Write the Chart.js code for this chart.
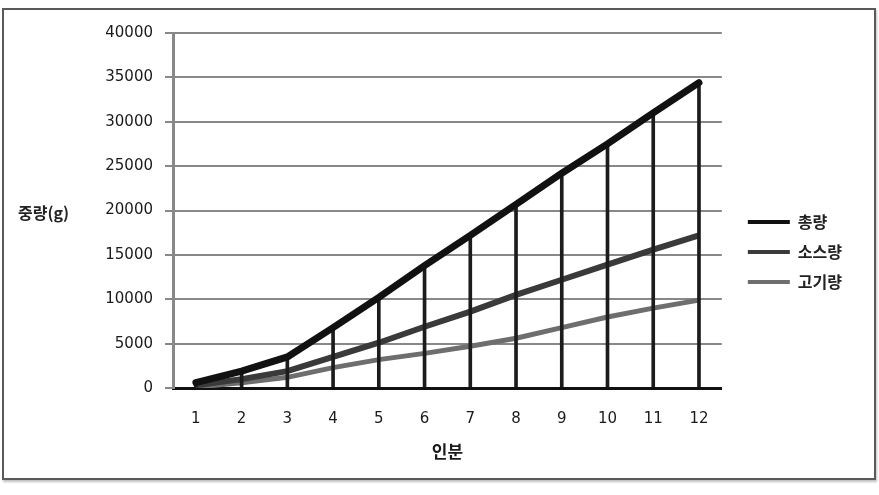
<!DOCTYPE html>
<html>
<head>
<meta charset="utf-8">
<script src="https://cdn.jsdelivr.net/npm/chart.js@4/dist/chart.umd.min.js"></script>
<style>
html, body { margin: 0; padding: 0; background: #fff; }
#wrap { position: relative; width: 879px; height: 495px; }
#frame { position: absolute; left: 2px; top: 8px; width: 870px; height: 468px; border: 2px solid #5a5a5a; box-shadow: 1px 2px 2px rgba(0,0,0,0.25); }
#ytitle { position: absolute; left: 18px; top: 200px; font: bold 16px "Noto Sans CJK KR"; color: #222; }
canvas { position: absolute; left: 0; top: 0; }
</style>
</head>
<body>
<div id="wrap">
  <div id="frame"></div>
  <canvas id="chart" width="879" height="495"></canvas>
  <div id="ytitle">중량(g)</div>
</div>
<script>
// 인분별 중량 (g)
const servings = ["1", "2", "3", "4", "5", "6", "7", "8", "9", "10", "11", "12"];
const totalWeight = [600, 1900, 3500, 6800, 10200, 13800, 17200, 20700, 24200, 27500, 31000, 34400];
const sauceWeight = [300, 1000, 1900, 3500, 5100, 6900, 8600, 10500, 12200, 13900, 15600, 17200];
const meatWeight = [100, 600, 1200, 2300, 3200, 3900, 4700, 5600, 6800, 8000, 9000, 9900];
const yMin = 0, yMax = 40000, yStep = 5000;

Chart.defaults.font.family = "DejaVu Sans";
Chart.defaults.color = "#1a1a1a";

const korFont = { family: "Noto Sans CJK KR", weight: "bold" };

new Chart(document.getElementById("chart"), {
    type: "line",
    data: {
        labels: servings,
        datasets: [
            { label: "총량", data: totalWeight, borderColor: "#111", backgroundColor: "#111", borderWidth: 7, pointRadius: 0, borderCapStyle: "round", order: 0 },
            { type: "bar", label: "drop", data: totalWeight, backgroundColor: "#1c1c1c", barThickness: 3, order: 1 },
            { label: "소스량", data: sauceWeight, borderColor: "#3a3a3a", backgroundColor: "#3a3a3a", borderWidth: 6, pointRadius: 0, order: 2 },
            { label: "고기량", data: meatWeight, borderColor: "#6e6e6e", backgroundColor: "#6e6e6e", borderWidth: 5, pointRadius: 0, order: 3 }
        ]
    },
    options: {
        responsive: false,
        animation: false,
        layout: { padding: { top: 33, right: 27, bottom: 24, left: 0 } },
        plugins: {
            tooltip: { enabled: false },
            legend: {
                position: "right",
                labels: {
                    boxWidth: 42,
                    boxHeight: 4,
                    padding: 14,
                    color: "#222",
                    font: { ...korFont, size: 16 },
                    generateLabels: chart => Chart.defaults.plugins.legend.labels.generateLabels(chart)
                        .filter(i => i.text !== "drop")
                        .map(i => Object.assign(i, { fillStyle: i.strokeStyle, lineWidth: 0 }))
                }
            }
        },
        scales: {
            x: {
                offset: true,
                grid: { display: false, drawTicks: false },
                border: { color: "#111", width: 3 },
                ticks: { padding: 22, font: { size: 15 } },
                title: { display: true, text: "인분", font: { ...korFont, size: 17 }, padding: { top: 0, bottom: 9 } },
                afterFit: s => { s.height = 83; }
            },
            y: {
                min: yMin,
                max: yMax,
                ticks: { stepSize: yStep, padding: 12, font: { size: 15 }, callback: v => String(v) },
                grid: { color: "#888", lineWidth: 2, tickLength: 8 },
                border: { color: "#888", width: 3 },
                afterFit: s => { s.width = 173; }
            },
            spacer: {
                type: "linear",
                axis: "y",
                position: "right",
                grid: { display: false },
                ticks: { display: false },
                border: { display: false },
                afterFit: s => { s.width = 12; }
            }
        }
    }
});
</script>
</body>
</html>
